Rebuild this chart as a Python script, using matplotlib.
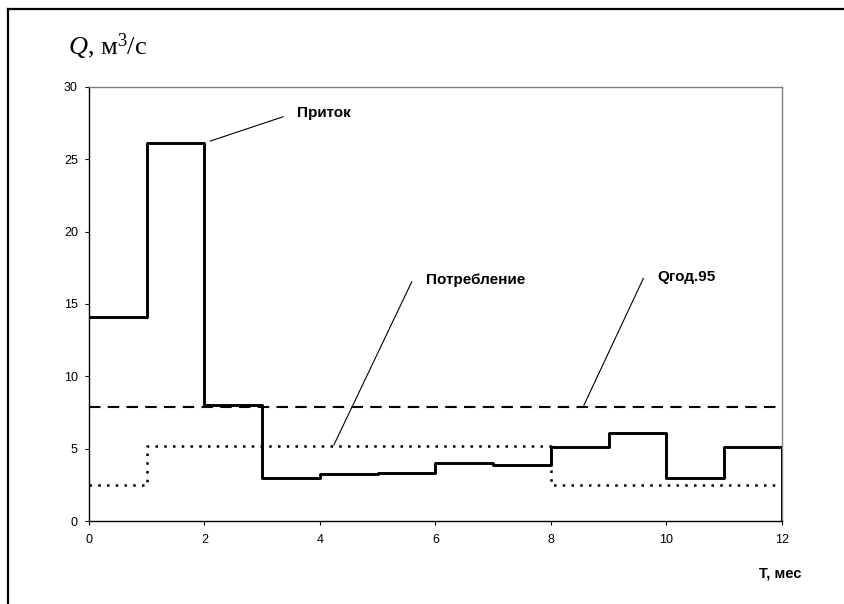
import matplotlib
matplotlib.use("Agg")
import matplotlib.pyplot as plt
from matplotlib.lines import Line2D

# месяцы и расходы, м3/с
months = [0, 1, 2, 3, 4, 5, 6, 7, 8, 9, 10, 11, 12]
inflow = [14.1, 26.1, 8.0, 3.0, 3.25, 3.35, 4.0, 3.9, 5.1, 6.05, 3.0, 5.1]
demand = [2.5, 5.2, 5.2, 5.2, 5.2, 5.2, 5.2, 5.2, 2.5, 2.5, 2.5, 2.5]
q95 = 7.85

plt.rcParams['font.family'] = ['Liberation Sans', 'DejaVu Sans']
plt.rcParams['mathtext.fontset'] = 'custom'
plt.rcParams['mathtext.rm'] = 'Liberation Serif'
plt.rcParams['mathtext.it'] = 'Liberation Serif:italic'

fig = plt.figure(figsize=(8.45, 6.04), dpi=100)
ax = fig.add_axes([0.1053, 0.1374, 0.8201, 0.7186])

# приток (в конце падает до нуля)
ax.step(months + [months[-1]], inflow + [inflow[-1], 0], where='post',
        color='black', lw=2.1, zorder=3)
# потребление
ax.step(months, demand + [demand[-1]], where='post',
        color='black', lw=1.8, linestyle=(0, (1, 2.5)), zorder=2)
# Qгод.95
ax.plot([0, 11.9], [q95, q95], color='black', lw=1.5,
        linestyle=(0, (5.5, 3.5)), zorder=2)

ax.set_xlim(0, 12)
ax.set_ylim(0, 30)
ax.set_xticks(range(0, 13, 2))
ax.set_yticks(range(0, 31, 5))
ax.tick_params(direction='out', length=3, width=0.8, labelsize=9,
               colors='black')
ax.tick_params(axis='x', pad=6)
ax.tick_params(axis='y', pad=5)
for s in ['top', 'right']:
    ax.spines[s].set_color('#808080')
    ax.spines[s].set_linewidth(1.0)
for s in ['left', 'bottom']:
    ax.spines[s].set_linewidth(1.0)

# подписи с выносками
bold = dict(fontsize=11, fontweight='bold', va='center', ha='left')
ax.text(3.6, 28.2, 'Приток', **bold)
ax.plot([2.1, 3.36], [26.26, 27.94], color='black', lw=0.8)
ax.text(5.83, 16.66, 'Потребление', **bold)
ax.plot([4.24, 5.59], [5.25, 16.54], color='black', lw=0.8)
ax.text(9.84, 16.9, 'Qгод.95', **bold)
ax.plot([8.57, 9.6], [8.0, 16.77], color='black', lw=0.8)

fig.text(0.923, 0.0497, 'T, мес', fontsize=10.5, fontweight='bold',
         ha='center', va='center')

# заголовок оси Q
fig.text(0.080, 1 - 55 / 604, r'$\mathit{Q}$, м$^3$/с',
         family='Liberation Serif', fontsize=19, ha='left', va='baseline')

# рамка рисунка (сверху и слева)
fig.add_artist(Line2D([8 / 845, 1], [1 - 9 / 604, 1 - 9 / 604],
                      transform=fig.transFigure, color='black', lw=1.6))
fig.add_artist(Line2D([8 / 845, 8 / 845], [0, 1 - 9 / 604],
                      transform=fig.transFigure, color='black', lw=1.6))

fig.savefig('out.png', dpi=100)
